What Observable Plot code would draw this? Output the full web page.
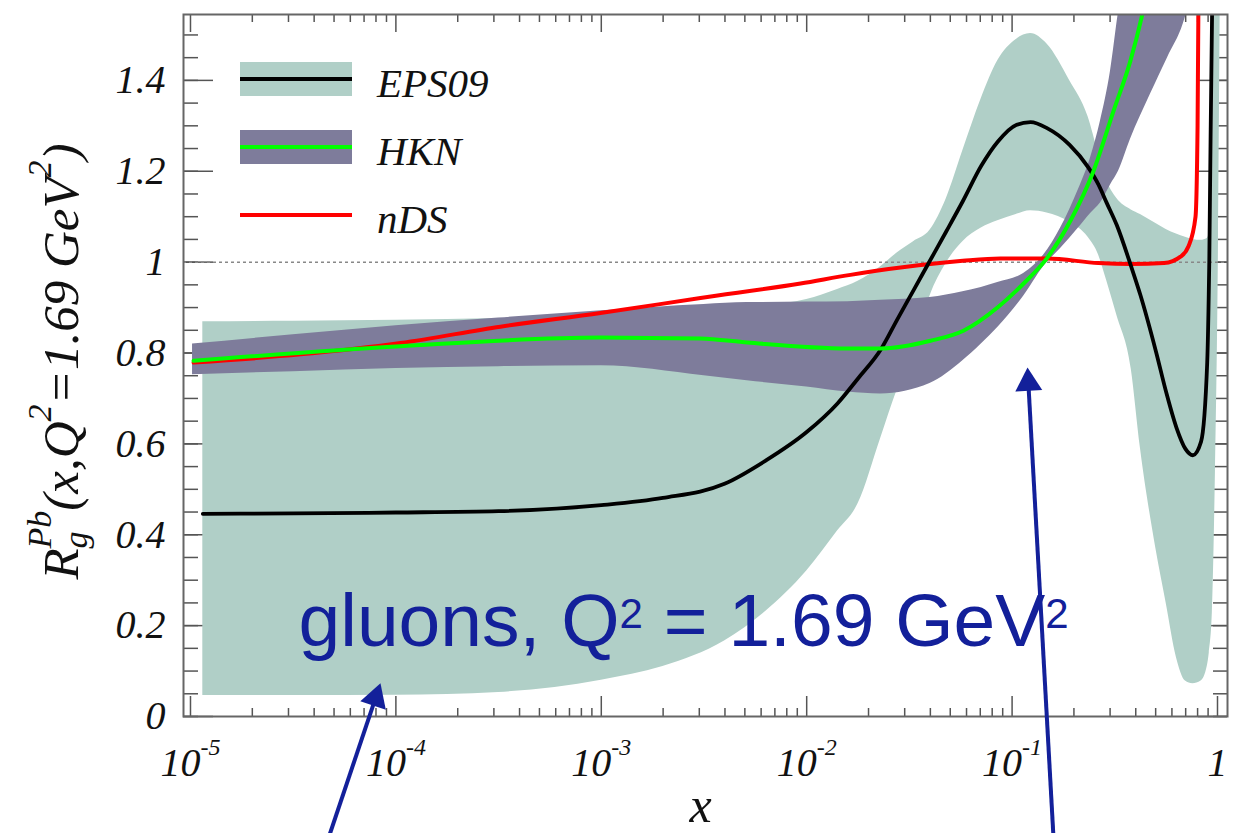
<!DOCTYPE html>
<html>
<head>
<meta charset="utf-8">
<script src="https://cdn.jsdelivr.net/npm/d3@7"></script>
<script src="https://cdn.jsdelivr.net/npm/@observablehq/plot@0.6"></script>
<style>
  html, body { margin: 0; padding: 0; background: #fff; }
  #chart svg { display: block; }
</style>
</head>
<body>
<div id="chart"></div>
<script>
// ---------------- data (x stored as log10 x) ----------------
const eps09LogX    = [-4.94, -4.5, -4.0, -3.5, -3.0, -2.7, -2.4, -2.2, -2.0, -1.85, -1.75, -1.64, -1.56, -1.48, -1.40, -1.32, -1.24, -1.15, -1.07, -0.98, -0.91, -0.83, -0.72, -0.63, -0.58, -0.54, -0.49, -0.42, -0.375, -0.30, -0.25, -0.20, -0.156, -0.12, -0.08, -0.05, -0.04, -0.025, -0.01, 0.005, 0.015];
const eps09Central = [0.446, 0.447, 0.449, 0.452, 0.465, 0.481, 0.512, 0.563, 0.626, 0.689, 0.744, 0.807, 0.873, 0.938, 1.003, 1.068, 1.134, 1.212, 1.265, 1.302, 1.308, 1.295, 1.258, 1.209, 1.171, 1.131, 1.081, 0.99, 0.927, 0.804, 0.714, 0.636, 0.589, 0.575, 0.605, 0.78, 1.0, 1.6, 1.7, 1.7, 1.7];
const eps09High    = [0.869, 0.870, 0.872, 0.876, 0.882, 0.888, 0.897, 0.905, 0.918, 0.94, 0.958, 0.99, 1.02, 1.045, 1.07, 1.14, 1.245, 1.36, 1.443, 1.49, 1.503, 1.48, 1.40, 1.32, 1.24, 1.18, 1.14, 1.115, 1.105, 1.085, 1.072, 1.062, 1.055, 1.05, 1.048, 1.052, 1.065, 1.7, 1.7, 1.7, 1.7];
const eps09Low     = [0.046, 0.046, 0.047, 0.053, 0.08, 0.11, 0.166, 0.231, 0.32, 0.408, 0.468, 0.612, 0.718, 0.805, 0.925, 0.998, 1.045, 1.075, 1.091, 1.105, 1.113, 1.108, 1.088, 1.055, 1.017, 0.96, 0.883, 0.765, 0.59, 0.37, 0.25, 0.13, 0.078, 0.072, 0.078, 0.11, 0.14, 0.23, 0.54, 1.05, 1.7];

const hknBandLogX  = [-4.99, -4.5, -4.0, -3.5, -3.0, -2.5, -2.29, -2.0, -1.8, -1.64, -1.4, -1.24, -1.15, -1.07, -0.944, -0.847, -0.764, -0.677, -0.618, -0.57, -0.521, -0.482, -0.424, -0.326, -0.243, -0.166, -0.12];
const hknHigh      = [0.82, 0.84, 0.86, 0.877, 0.893, 0.907, 0.911, 0.912, 0.913, 0.916, 0.922, 0.935, 0.944, 0.955, 0.975, 1.015, 1.075, 1.16, 1.23, 1.31, 1.42, 1.55, 1.7, 1.7, 1.7, 1.7, 1.7];
const hknLow       = [0.752, 0.759, 0.766, 0.77, 0.772, 0.75, 0.739, 0.725, 0.714, 0.71, 0.733, 0.783, 0.82, 0.856, 0.925, 0.99, 1.03, 1.075, 1.107, 1.13, 1.17, 1.20, 1.27, 1.37, 1.45, 1.525, 1.6];

const hknCentralLogX = [-4.985, -3.978, -3.004, -2.517, -2.288, -1.801, -1.641, -1.397, -1.237, -1.071, -0.944, -0.828, -0.716, -0.604, -0.506, -0.424, -0.365, -0.33];
const hknCentral     = [0.783, 0.815, 0.834, 0.832, 0.823, 0.81, 0.81, 0.827, 0.849, 0.9, 0.953, 1.01, 1.091, 1.2, 1.333, 1.443, 1.547, 1.62];

const ndsLogX   = [-4.985, -4.464, -3.978, -3.491, -3.004, -2.517, -2.030, -1.787, -1.543, -1.24, -1.057, -0.83, -0.58, -0.42, -0.26, -0.18, -0.141, -0.107, -0.097, -0.092];
const ndsValues = [0.779, 0.797, 0.822, 0.858, 0.888, 0.921, 0.953, 0.972, 0.988, 1.003, 1.008, 1.008, 0.998, 0.996, 0.998, 1.012, 1.035, 1.10, 1.30, 1.62];

// axis ticks and labels
const yMajorTicks  = [0, 0.2, 0.4, 0.6, 0.8, 1, 1.2, 1.4];
const yTickLabels  = ["0", "0.2", "0.4", "0.6", "0.8", "1", "1.2", "1.4"];
const xDecadeTicks = [1e-5, 1e-4, 1e-3, 1e-2, 1e-1, 1];
const xTickBase    = ["10", "10", "10", "10", "10", "1"];
const xTickExp     = ["-5", "-4", "-3", "-2", "-1", ""];
const xAxisTitle   = "x";
const yTitlePieces = ["R", "g", "Pb", "(x,Q", "2", "=1.69 GeV", "2", ")"];
const yTitleRoles  = ["base", "sub", "sup", "base", "sup", "base", "sup", "base"];

// legend
const seriesNames  = ["EPS09", "HKN", "nDS"];
const seriesBand   = ["#b0cfc7", "#7e7c9b", null];
const seriesLine   = ["#000000", "#00ff00", "#ff0000"];

// annotation text and arrows (log10 x, y)
const annotationPieces = ["gluons, Q", "2", " = 1.69 GeV", "2"];
const annotationRoles  = ["base", "sup", "base", "sup"];
const annotationLogX   = -4.474;
const annotationY      = 0.156;
const arrowTailLogX = [-4.33, -0.798];
const arrowTailY    = [-0.27, -0.27];
const arrowTipLogX  = [-4.075, -0.925];
const arrowTipY     = [0.073, 0.768];

// ---------------- layout ----------------
const W = 1252, H = 833;
const M = {left: 183, right: 25, top: 14, bottom: 117};
const PW = W - M.left - M.right, PH = H - M.top - M.bottom;
const xDomain = [10 ** -5.034, 10 ** 0.0487];
const yDomain = [0, 1.545];
const NAVY = "#13209a";
const TICK = "#555";
const SERIF = "'Liberation Serif', 'Times New Roman', serif";
const SANS = "'Liberation Sans', Arial, Helvetica, sans-serif";

// ---------------- tables ----------------
const eps09 = eps09LogX.map((lx, i) => ({x: 10 ** lx, c: eps09Central[i], lo: eps09Low[i], hi: eps09High[i]}));
const hknBand = hknBandLogX.map((lx, i) => ({x: 10 ** lx, lo: hknLow[i], hi: hknHigh[i]}));
const hknLine = hknCentralLogX.map((lx, i) => ({x: 10 ** lx, y: hknCentral[i]}));
const nds = ndsLogX.map((lx, i) => ({x: 10 ** lx, y: ndsValues[i]}));

const yMinorTicks = d3.range(0, 31).map(i => +(i * 0.05).toFixed(2));
const xMinorTicks = [];
for (let k = -5; k <= -1; k++) for (let m = 2; m <= 9; m++) xMinorTicks.push(m * 10 ** k);

// arrows: compute head placement in pixel space via standalone scales
const xs = Plot.scale({x: {type: "log", domain: xDomain, range: [M.left, W - M.right]}});
const ys = Plot.scale({y: {type: "linear", domain: yDomain, range: [H - M.bottom, M.top]}});
const HEAD_R = 10;
const headBack = 2 * HEAD_R * Math.sqrt(Math.PI / (3 * Math.sqrt(3)));
const arrows = arrowTipLogX.map((lx, i) => {
  const tx = xs.apply(10 ** lx), ty = ys.apply(arrowTipY[i]);
  const bx = xs.apply(10 ** arrowTailLogX[i]), by = ys.apply(arrowTailY[i]);
  const len = Math.hypot(tx - bx, ty - by);
  const ux = (tx - bx) / len, uy = (ty - by) / len;
  const cx = tx - ux * headBack, cy = ty - uy * headBack;
  return {
    x1: 10 ** arrowTailLogX[i], y1: arrowTailY[i],
    x2: xs.invert(cx), y2: ys.invert(cy),
    angle: Math.atan2(ux, -uy) * 180 / Math.PI
  };
});

const tickIndex = d => xDecadeTicks.findIndex(t => Math.abs(Math.log10(t) - Math.log10(d)) < 1e-6);
const yTitleString = yTitlePieces.join("");
const annotationString = annotationPieces.join("");

const chart = Plot.plot({
  width: W, height: H,
  marginLeft: M.left, marginRight: M.right, marginTop: M.top, marginBottom: M.bottom,
  style: {background: "#fff", fontFamily: SERIF, color: "#111"},
  x: {type: "log", domain: xDomain},
  y: {domain: yDomain},
  marks: [
    // inward ticks (drawn under the bands)
    Plot.tickY(yMinorTicks, {y: d => d, stroke: TICK, strokeWidth: 1.5, insetRight: PW - 15}),
    Plot.tickY(yMinorTicks, {y: d => d, stroke: TICK, strokeWidth: 1.5, insetLeft: PW - 14}),
    Plot.tickY(yMajorTicks, {y: d => d, stroke: TICK, strokeWidth: 1.5, insetRight: PW - 30}),
    Plot.tickY(yMajorTicks, {y: d => d, stroke: TICK, strokeWidth: 1.5, insetLeft: PW - 29}),
    Plot.tickX(xMinorTicks, {x: d => d, stroke: TICK, strokeWidth: 1.5, insetTop: PH - 8}),
    Plot.tickX(xMinorTicks, {x: d => d, stroke: TICK, strokeWidth: 1.5, insetBottom: PH - 8}),
    Plot.tickX(xDecadeTicks, {x: d => d, stroke: TICK, strokeWidth: 1.5, insetTop: PH - 20}),
    Plot.tickX(xDecadeTicks, {x: d => d, stroke: TICK, strokeWidth: 1.5, insetBottom: PH - 18}),

    Plot.axisY({ticks: yMajorTicks, tickSize: 0, tickPadding: 18, label: null,
      tickFormat: d => yTickLabels[yMajorTicks.indexOf(d)],
      fontSize: 40, fontStyle: "italic", fontFamily: SERIF, fill: "#111"}),
    Plot.axisX({ticks: xDecadeTicks, tickSize: 0, tickPadding: 31, label: null,
      tickFormat: d => xTickBase[tickIndex(d)] + (xTickExp[tickIndex(d)] ? "^" + xTickExp[tickIndex(d)] : ""),
      fontSize: 40, fontStyle: "italic", fontFamily: SERIF, fill: "#111"}),

    // bands
    Plot.areaY(eps09, {x: "x", y1: "lo", y2: "hi", fill: "#b0cfc7", curve: "monotone-x", clip: true}),
    Plot.areaY(hknBand, {x: "x", y1: "lo", y2: "hi", fill: "#7e7c9b", curve: "monotone-x", clip: true}),

    // reference line at 1
    Plot.ruleY([1], {stroke: "#888", strokeWidth: 1.5, strokeDasharray: "3,3"}),

    // central curves
    Plot.line(nds, {x: "x", y: "y", stroke: "#ff0000", strokeWidth: 4, curve: "monotone-x", clip: true}),
    Plot.line(eps09, {x: "x", y: "c", stroke: "#000", strokeWidth: 3.8, curve: "monotone-x", clip: true}),
    Plot.line(hknLine, {x: "x", y: "y", stroke: "#00ff00", strokeWidth: 4, curve: "monotone-x", clip: true}),

    Plot.frame({stroke: "#666", strokeWidth: 2}),

    // axis titles
    Plot.text([xAxisTitle], {frameAnchor: "bottom", dx: -5, dy: 105, lineAnchor: "bottom",
      fontSize: 50, fontStyle: "italic", fontFamily: SERIF, fill: "#111"}),
    Plot.text([yTitleString], {frameAnchor: "left", dx: -106, dy: -4, rotate: -90,
      lineAnchor: "bottom", textAnchor: "middle", fontSize: 51, fontStyle: "italic", fontFamily: SERIF,
      fill: "#111"}),

    // annotation
    Plot.text([annotationString], {x: () => 10 ** annotationLogX, y: () => annotationY,
      textAnchor: "start", lineAnchor: "bottom", fontSize: 75, fontFamily: SANS, fill: NAVY}),
    Plot.link(arrows, {x1: "x1", y1: "y1", x2: "x2", y2: "y2", stroke: NAVY, strokeWidth: 4}),
    Plot.dot(arrows, {x: "x2", y: "y2", symbol: "triangle", r: HEAD_R, fill: NAVY, rotate: "angle"})
  ]
});

document.getElementById("chart").appendChild(chart);

// ---------------- rich text (sub/superscripts) ----------------
function richText(textEl, pieces, roles, sizes, shifts) {
  const sel = d3.select(textEl);
  sel.text(null);
  let cur = 0, prev = null, prevRole = null;
  pieces.forEach((t, i) => {
    const role = roles[i];
    const ts = sel.append("tspan").text(t);
    if (sizes[role]) ts.attr("font-size", sizes[role]);
    const target = shifts[role] || 0;
    if (target - cur) ts.attr("dy", target - cur);
    if (role === "sup" && prevRole === "sub" && prev) {
      ts.attr("dx", -prev.node().getComputedTextLength());
    }
    cur = target; prev = ts; prevRole = role;
  });
}

const svg = d3.select(chart);
svg.selectAll("text").each(function () {
  const s = this.textContent;
  if (s === yTitleString) {
    richText(this, yTitlePieces, yTitleRoles, {sub: 34, sup: 34}, {sub: 9, sup: -27});
  } else if (s === annotationString) {
    richText(this, annotationPieces, annotationRoles, {sup: 42}, {sup: -18});
  } else if (s.includes("^")) {
    const [b, e] = s.split("^");
    richText(this, [b, e], ["base", "sup"], {sup: 24}, {sup: -21});
  }
});

// ---------------- legend (inside the frame, top-left) ----------------
const lg = svg.append("g").attr("aria-label", "legend").attr("text-anchor", "start");
seriesNames.forEach((name, i) => {
  const yc = 79 + 68 * i;
  if (seriesBand[i]) lg.append("rect").attr("x", 240).attr("y", yc - 17).attr("width", 112).attr("height", 34).attr("fill", seriesBand[i]);
  lg.append("line").attr("x1", 240).attr("x2", 352).attr("y1", yc).attr("y2", yc)
    .attr("stroke", seriesLine[i]).attr("stroke-width", 4);
  lg.append("text").attr("x", 377).attr("y", yc + 18).text(name)
    .attr("text-anchor", "start")
    .attr("font-family", SERIF).attr("font-style", "italic").attr("font-size", 41).attr("fill", "#111");
});
</script>
</body>
</html>
